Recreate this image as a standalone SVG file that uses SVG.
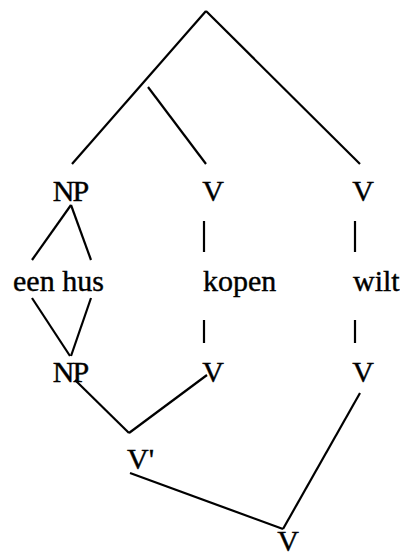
<svg xmlns="http://www.w3.org/2000/svg" width="400" height="558" viewBox="0 0 400 558">
<style>
text{font-family:"Liberation Serif","Times New Roman",serif;font-size:30px;fill:#000;stroke:#000;stroke-width:0.4}
.c line{stroke:#000;stroke-width:2.2;stroke-linecap:butt}
</style>
<rect width="400" height="558" fill="#fff"/>
<g class="c" id="connectors">
<line x1="206" y1="11" x2="72" y2="164"/>
<line x1="206" y1="11" x2="360" y2="164"/>
<line x1="148" y1="87" x2="206" y2="164"/>
<line x1="71" y1="205" x2="32" y2="260"/>
<line x1="71" y1="205" x2="91" y2="260"/>
<line x1="204" y1="221" x2="204" y2="252"/>
<line x1="355" y1="221" x2="355" y2="252"/>
<line x1="32" y1="298" x2="70" y2="356"/>
<line x1="91" y1="298" x2="71" y2="356"/>
<line x1="204" y1="320" x2="204" y2="343"/>
<line x1="355" y1="320" x2="355" y2="343"/>
<line x1="75" y1="380" x2="129" y2="433"/>
<line x1="129" y1="433" x2="207" y2="375"/>
<line x1="130" y1="473" x2="283" y2="529"/>
<line x1="283" y1="529" x2="360" y2="393"/>
</g>
<g id="np1"><text x="70" y="201" text-anchor="middle" letter-spacing="-2">NP</text></g>
<g id="v1"><text x="213" y="201" text-anchor="middle">V</text></g>
<g id="v2"><text x="363" y="201" text-anchor="middle">V</text></g>
<g id="eenhus"><text x="13" y="291">een hus</text></g>
<g id="kopen"><text x="203" y="291">kopen</text></g>
<g id="wilt"><text x="353" y="291">wilt</text></g>
<g id="np2"><text x="70" y="382" text-anchor="middle" letter-spacing="-2">NP</text></g>
<g id="v3"><text x="213" y="382" text-anchor="middle">V</text></g>
<g id="v4"><text x="363" y="382" text-anchor="middle">V</text></g>
<g id="vbar"><text x="127" y="469">V'</text></g>
<g id="v5"><text x="288" y="551" text-anchor="middle">V</text></g>
</svg>
